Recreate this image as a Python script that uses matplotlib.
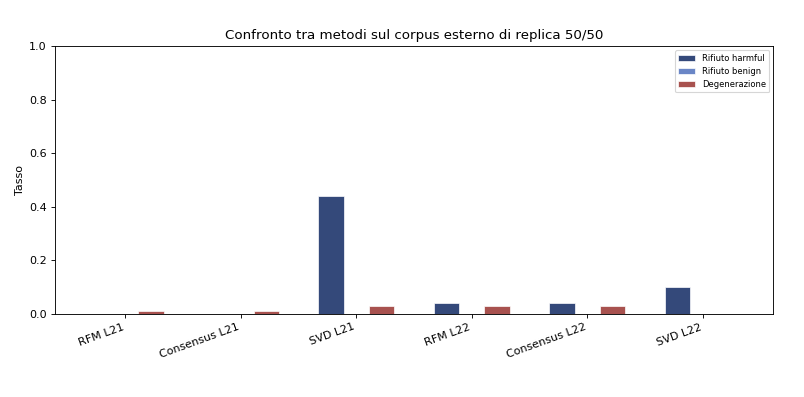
import numpy as np
import matplotlib
matplotlib.use("Agg")
import matplotlib.pyplot as plt

# dati
metodi = ["RFM L21", "Consensus L21", "SVD L21", "RFM L22", "Consensus L22", "SVD L22"]
rifiuto_harmful = [0.0, 0.0, 0.44, 0.04, 0.04, 0.10]
rifiuto_benign = [0.0, 0.0, 0.0, 0.0, 0.0, 0.0]
degenerazione = [0.01, 0.01, 0.03, 0.03, 0.03, 0.0]

colori = ["#34497a", "#6a86c6", "#a8524f"]

fig, ax = plt.subplots(figsize=(10, 4.938), dpi=80.4)
x = np.arange(len(metodi))
w = 0.22

ax.bar(x - w, rifiuto_harmful, w, label="Rifiuto harmful", color=colori[0],
       edgecolor="white", linewidth=0.6)
ax.bar(x, rifiuto_benign, w, label="Rifiuto benign", color=colori[1],
       edgecolor="white", linewidth=0.6)
ax.bar(x + w, degenerazione, w, label="Degenerazione", color=colori[2],
       edgecolor="white", linewidth=0.6)

ax.set_xticks(x)
ax.set_xticklabels(metodi, rotation=20, ha="right")
ax.set_ylim(0, 1.0)
ax.set_ylabel("Tasso")
ax.set_title("Confronto tra metodi sul corpus esterno di replica 50/50")
ax.legend(loc="upper right", fontsize=7.5)

fig.subplots_adjust(left=0.068, right=0.962, top=0.884, bottom=0.209)
fig.savefig("out.png", dpi=80.4)
